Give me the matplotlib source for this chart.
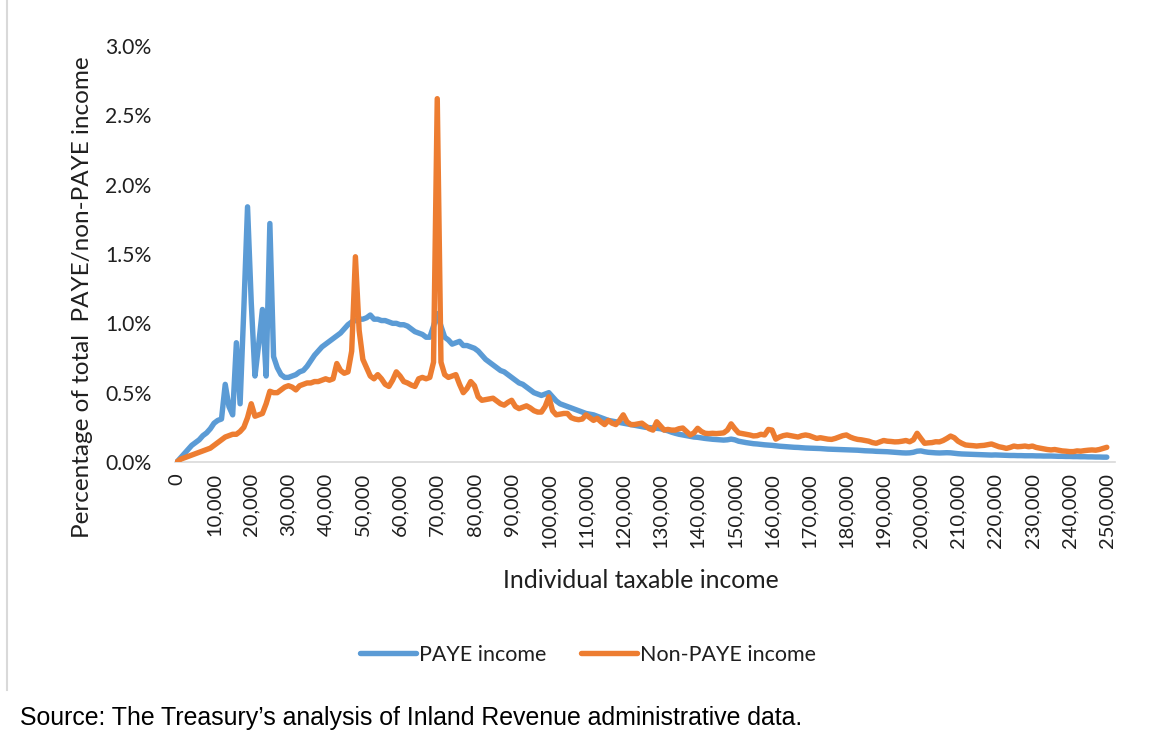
import matplotlib
matplotlib.use("Agg")
import matplotlib.pyplot as plt
from matplotlib.lines import Line2D
from matplotlib.ticker import FuncFormatter, MultipleLocator

# Income bins in thousands of dollars (0 .. 250)
income_k = list(range(0, 251))

paye = [
    0.00, 0.03, 0.06, 0.09, 0.12, 0.14, 0.16, 0.19, 0.21, 0.24,
    0.28, 0.30, 0.31, 0.56, 0.40, 0.34, 0.86, 0.42, 1.10, 1.84,
    1.15, 0.62, 0.85, 1.10, 0.62, 1.72, 0.76, 0.68, 0.63, 0.61,
    0.61, 0.62, 0.63, 0.65, 0.66, 0.69, 0.73, 0.77, 0.80, 0.83,
    0.85, 0.87, 0.89, 0.91, 0.93, 0.96, 0.99, 1.01, 1.02, 1.03,
    1.03, 1.04, 1.06, 1.03, 1.03, 1.02, 1.02, 1.01, 1.00, 1.00,
    0.99, 0.99, 0.98, 0.96, 0.94, 0.93, 0.92, 0.90, 0.90, 0.98,
    1.07, 0.98, 0.90, 0.88, 0.85, 0.86, 0.87, 0.84, 0.84, 0.83,
    0.82, 0.80, 0.77, 0.74, 0.72, 0.70, 0.68, 0.66, 0.65, 0.63,
    0.61, 0.59, 0.57, 0.56, 0.54, 0.52, 0.50, 0.49, 0.48, 0.49,
    0.50, 0.47, 0.44, 0.42, 0.41, 0.40, 0.39, 0.38, 0.37, 0.36,
    0.35, 0.345, 0.34, 0.33, 0.32, 0.31, 0.30, 0.295, 0.29, 0.285,
    0.28, 0.275, 0.27, 0.265, 0.26, 0.255, 0.25, 0.248, 0.245, 0.243,
    0.24, 0.232, 0.225, 0.215, 0.207, 0.20, 0.195, 0.19, 0.185, 0.18,
    0.178, 0.174, 0.17, 0.167, 0.164, 0.162, 0.160, 0.158, 0.160, 0.165,
    0.160, 0.150, 0.145, 0.140, 0.136, 0.132, 0.130, 0.127, 0.124, 0.122,
    0.120, 0.117, 0.114, 0.112, 0.110, 0.108, 0.106, 0.105, 0.103, 0.101,
    0.100, 0.099, 0.098, 0.097, 0.095, 0.093, 0.092, 0.091, 0.090, 0.089,
    0.088, 0.087, 0.086, 0.085, 0.083, 0.081, 0.080, 0.079, 0.077, 0.076,
    0.075, 0.074, 0.072, 0.070, 0.068, 0.066, 0.065, 0.066, 0.070, 0.078,
    0.080, 0.074, 0.070, 0.068, 0.066, 0.065, 0.066, 0.067, 0.066, 0.063,
    0.060, 0.058, 0.057, 0.056, 0.055, 0.054, 0.053, 0.052, 0.051, 0.050,
    0.051, 0.050, 0.049, 0.048, 0.047, 0.047, 0.046, 0.046, 0.045, 0.045,
    0.045, 0.044, 0.044, 0.043, 0.043, 0.043, 0.042, 0.041, 0.041, 0.040,
    0.040, 0.039, 0.039, 0.038, 0.038, 0.037, 0.037, 0.036, 0.036, 0.035,
    0.035,
]

non_paye = [
    0.00, 0.02, 0.03, 0.04, 0.05, 0.06, 0.07, 0.08, 0.09, 0.10,
    0.12, 0.14, 0.16, 0.18, 0.19, 0.20, 0.20, 0.22, 0.25, 0.32,
    0.42, 0.33, 0.34, 0.35, 0.42, 0.51, 0.50, 0.50, 0.52, 0.54,
    0.55, 0.54, 0.52, 0.55, 0.56, 0.57, 0.57, 0.58, 0.58, 0.59,
    0.60, 0.59, 0.60, 0.71, 0.66, 0.64, 0.65, 0.80, 1.48, 0.95,
    0.74, 0.68, 0.62, 0.60, 0.63, 0.60, 0.56, 0.545, 0.59, 0.65,
    0.62, 0.58, 0.57, 0.555, 0.545, 0.60, 0.61, 0.60, 0.61, 0.72,
    2.62, 0.72, 0.63, 0.61, 0.62, 0.63, 0.56, 0.50, 0.53, 0.58,
    0.55, 0.47, 0.445, 0.45, 0.455, 0.46, 0.44, 0.42, 0.41, 0.43,
    0.445, 0.40, 0.385, 0.395, 0.405, 0.39, 0.37, 0.36, 0.36, 0.40,
    0.47, 0.37, 0.34, 0.345, 0.35, 0.35, 0.32, 0.31, 0.305, 0.31,
    0.34, 0.32, 0.30, 0.315, 0.29, 0.27, 0.30, 0.28, 0.27, 0.30,
    0.34, 0.29, 0.27, 0.27, 0.275, 0.28, 0.26, 0.24, 0.23, 0.29,
    0.26, 0.23, 0.235, 0.23, 0.23, 0.24, 0.245, 0.22, 0.195, 0.21,
    0.243, 0.22, 0.207, 0.205, 0.207, 0.205, 0.207, 0.21, 0.23, 0.275,
    0.24, 0.21, 0.205, 0.20, 0.195, 0.188, 0.19, 0.20, 0.195, 0.235,
    0.23, 0.165, 0.18, 0.19, 0.195, 0.19, 0.185, 0.18, 0.19, 0.195,
    0.19, 0.18, 0.17, 0.175, 0.17, 0.165, 0.163, 0.17, 0.18, 0.19,
    0.195, 0.18, 0.17, 0.163, 0.16, 0.155, 0.15, 0.14, 0.135, 0.145,
    0.155, 0.15, 0.148, 0.145, 0.146, 0.15, 0.155, 0.146, 0.16, 0.207,
    0.17, 0.135, 0.138, 0.14, 0.146, 0.145, 0.155, 0.17, 0.187, 0.175,
    0.15, 0.135, 0.123, 0.12, 0.118, 0.115, 0.118, 0.12, 0.125, 0.13,
    0.12, 0.11, 0.105, 0.098, 0.105, 0.115, 0.11, 0.112, 0.115, 0.11,
    0.115, 0.105, 0.10, 0.095, 0.09, 0.087, 0.09, 0.085, 0.08, 0.078,
    0.075, 0.075, 0.08, 0.078, 0.082, 0.085, 0.087, 0.085, 0.09, 0.098,
    0.106,
]

series_labels = ["PAYE income", "Non-PAYE income"]
x_title = "Individual taxable income"
y_title = "Percentage of total  PAYE/non-PAYE income"
source_text = "Source: The Treasury\u2019s analysis of Inland Revenue administrative data."

BLUE = "#5B9BD5"
ORANGE = "#ED7D31"
TEXT = "#1F1F1F"
FONT = ["Lato", "DejaVu Sans"]

W, H = 1167, 749
fig = plt.figure(figsize=(W / 100, H / 100), dpi=100)
fig.patch.set_facecolor("white")

left, right, bottom, top = 175, 1115, 462, 46
ax = fig.add_axes([left / W, 1 - bottom / H, (right - left) / W, (bottom - top) / H])

LW = 3.9
ax.plot(income_k, paye, color=BLUE, lw=LW, solid_joinstyle="round",
        solid_capstyle="round", label=series_labels[0], zorder=3)
ax.plot(income_k, non_paye, color=ORANGE, lw=LW, solid_joinstyle="round",
        solid_capstyle="round", label=series_labels[1], zorder=4)

ax.set_xlim(-0.5, 252.2)
ax.set_ylim(0, 3.0)

ax.yaxis.set_major_locator(MultipleLocator(0.5))
ax.yaxis.set_major_formatter(FuncFormatter(lambda v, p: f"{v:.1f}%"))
ax.xaxis.set_major_locator(MultipleLocator(10))
ax.xaxis.set_major_formatter(FuncFormatter(lambda v, p: f"{int(round(v * 1000)):,}"))

for s in ["top", "right", "left"]:
    ax.spines[s].set_visible(False)
ax.spines["bottom"].set_color("#D9D9D9")
ax.spines["bottom"].set_linewidth(1.2)
ax.tick_params(axis="both", length=0, colors=TEXT)
ax.tick_params(axis="x", pad=8, labelsize=14.5)
ax.tick_params(axis="y", pad=17, labelsize=15.2)
for lab in ax.get_xticklabels():
    lab.set_rotation(90)
    lab.set_fontfamily(FONT)
    lab.set_va("top")
for lab in ax.get_yticklabels():
    lab.set_fontfamily(FONT)

fig.text(83 / W, 1 - 297 / H, y_title, rotation=90, ha="center", va="center",
         fontsize=17.5, color=TEXT, family=FONT)
fig.text(641 / W, 1 - 580 / H, x_title, ha="center", va="center",
         fontsize=17.8, color=TEXT, family=FONT)

handles = [Line2D([], [], color=BLUE, lw=LW, solid_capstyle="round"),
           Line2D([], [], color=ORANGE, lw=LW, solid_capstyle="round")]
leg = fig.legend(handles, series_labels, loc="center", ncol=2,
                 bbox_to_anchor=(588 / W, 1 - 655 / H), frameon=False,
                 prop={"family": FONT, "size": 15.5}, handlelength=2.6,
                 handletextpad=0.15, columnspacing=1.6)
for t in leg.get_texts():
    t.set_color(TEXT)

fig.text(20 / W, 1 - 718 / H, source_text, ha="left", va="center",
         fontsize=17.9, color="black", family=["Liberation Sans", "DejaVu Sans"])

fig.add_artist(Line2D([7 / W, 7 / W], [1 - 0 / H, 1 - 690 / H], color="#D9D9D9",
                      lw=1.5, transform=fig.transFigure))

fig.savefig("out.png", dpi=100)
